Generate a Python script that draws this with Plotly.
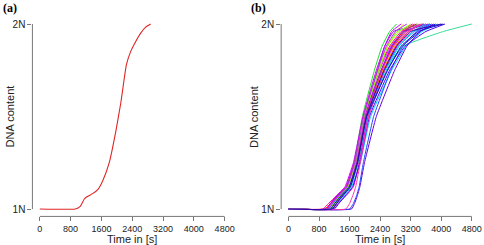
import plotly.graph_objects as go

# ---------------- data ----------------
x_ticks = [0, 800, 1600, 2400, 3200, 4000, 4800]
y_ticks = [1, 2]
y_tick_labels = ["1N", "2N"]

# panel (a): single cell
a_time = [0, 920, 1050, 1155, 1215, 1370, 1517, 1629, 1801, 1974, 2103, 2189, 2249, 2361, 2491, 2620, 2749, 2878]
a_dna = [1.0, 1.0, 1.014, 1.054, 1.065, 1.083, 1.108, 1.15, 1.249, 1.42, 1.573, 1.70, 1.78, 1.852, 1.906, 1.951, 1.983, 2.0]

# panel (b): many cells; common DNA levels, per-cell times
b_levels = [1.0, 1.0, 1.03, 1.07, 1.12, 1.25, 1.5, 1.75, 1.88, 1.96, 2.0]
b_colors = ["#22DD22", "#FFD000", "#FF8800", "#FF2020", "#FF00FF", "#9900FF", "#0000FF",
            "#00CCFF", "#33DD99", "#FF0080", "#CC00FF", "#3344FF", "#6600DD", "#2244FF",
            "#EE00CC", "#66EE33", "#FFAA00", "#0088FF", "#8800CC", "#EE1144", "#4400FF",
            "#DD22DD", "#00DDDD", "#FF33AA", "#1111CC", "#99FF00", "#AA33FF", "#3300AA"]
b_times = [
    [0, 1100, 1200, 1350, 1550, 1720, 1935, 2250, 2450, 2650, 2830],
    [0, 1150, 1250, 1400, 1580, 1760, 1990, 2330, 2580, 2820, 3020],
    [0, 1050, 1180, 1330, 1560, 1780, 2020, 2420, 2750, 3050, 3350],
    [0, 950, 1100, 1280, 1570, 1790, 2050, 2480, 2800, 3150, 3500],
    [0, 1000, 1120, 1300, 1550, 1750, 1990, 2380, 2680, 3000, 3300],
    [0, 1080, 1200, 1380, 1600, 1780, 2000, 2330, 2520, 2750, 3550],
    [0, 1150, 1250, 1420, 1620, 1820, 2080, 2580, 2980, 3450, 3850],
    [0, 1200, 1300, 1450, 1650, 1880, 2150, 2700, 3080, 3500, 3900],
    [0, 1120, 1230, 1400, 1620, 1830, 2070, 2520, 3000, 4060, 4800],
    [0, 900, 1050, 1250, 1500, 1720, 1960, 2350, 2650, 2950, 3250],
    [0, 1000, 1100, 1250, 1480, 1700, 1950, 2300, 2520, 2700, 2950],
    [0, 1100, 1200, 1350, 1560, 1760, 2000, 2430, 2700, 3000, 3700],
    [0, 1650, 1730, 1800, 1870, 1990, 2300, 2780, 3100, 3450, 3800],
    [0, 1600, 1700, 1780, 1850, 1960, 2230, 2680, 3000, 3350, 3750],
    [0, 1150, 1300, 1500, 1700, 1850, 2080, 2520, 2850, 3250, 3650],
    [0, 1050, 1170, 1320, 1540, 1740, 1980, 2380, 2600, 2850, 3400],
    [0, 1100, 1220, 1380, 1600, 1800, 2040, 2470, 2780, 3100, 3500],
    [0, 1050, 1160, 1320, 1560, 1780, 2030, 2520, 2880, 3300, 3700],
    [0, 1000, 1110, 1270, 1520, 1740, 1990, 2430, 2720, 3050, 3600],
    [0, 1150, 1260, 1400, 1600, 1790, 2020, 2450, 2720, 3000, 3350],
    [0, 1200, 1320, 1480, 1680, 1870, 2120, 2650, 3050, 3600, 4100],
    [0, 1000, 1120, 1300, 1550, 1770, 2010, 2440, 2750, 3100, 3450],
    [0, 1100, 1220, 1380, 1600, 1810, 2060, 2560, 2900, 3250, 3600],
    [0, 1500, 1600, 1680, 1760, 1880, 2100, 2520, 2820, 3150, 3500],
    [0, 1150, 1260, 1410, 1620, 1810, 2050, 2600, 2950, 3400, 4050],
    [0, 1080, 1190, 1340, 1560, 1750, 1980, 2360, 2600, 2900, 3200],
    [0, 1050, 1150, 1310, 1530, 1740, 1970, 2330, 2560, 2800, 3100],
    [0, 1100, 1210, 1370, 1590, 1800, 2040, 2500, 2830, 3200, 4000],
]

# ---------------- figure ----------------
W, H = 484, 245
SANS = "Liberation Sans, Arial, sans-serif"
SERIF = "Liberation Serif, Times New Roman, serif"
AXIS_COLOR = "#777777"
TEXT_COLOR = "#222222"

fig = go.Figure()

fig.add_trace(go.Scatter(x=a_time, y=a_dna, mode="lines",
                         line=dict(color="#E02525", width=1.1, shape="spline", smoothing=0.4),
                         xaxis="x", yaxis="y", showlegend=False, hoverinfo="skip"))

for col, ts in zip(b_colors, b_times):
    fig.add_trace(go.Scatter(x=ts, y=b_levels, mode="lines",
                             line=dict(color=col, width=1, shape="spline", smoothing=0.35),
                             xaxis="x2", yaxis="y2", showlegend=False, hoverinfo="skip"))

xpad = 0.04 * (x_ticks[-1] - x_ticks[0])
ypad = 0.04 * (y_ticks[-1] - y_ticks[0])
xr = [x_ticks[0] - xpad, x_ticks[-1] + xpad]
yr = [y_ticks[0] - ypad, y_ticks[-1] + ypad]

ydom = [0.1167, 0.9322]
xdom_a = [0.0674, 0.4824]
xdom_b = [0.5845, 0.9961]

def xaxis(dom, anchor):
    return dict(domain=dom, range=xr, anchor=anchor, tickmode="array",
                tickvals=x_ticks, ticktext=[str(v) for v in x_ticks],
                ticks="outside", ticklen=4, tickwidth=1, tickcolor=AXIS_COLOR,
                showline=False, showgrid=False, zeroline=False,
                tickfont=dict(family=SANS, size=9, color=TEXT_COLOR), fixedrange=True)

def yaxis(anchor):
    return dict(domain=ydom, range=yr, anchor=anchor, tickmode="array",
                tickvals=y_ticks, ticktext=y_tick_labels,
                ticks="outside", ticklen=4, tickwidth=1, tickcolor=AXIS_COLOR,
                showline=False, showgrid=False, zeroline=False,
                tickfont=dict(family=SANS, size=10, color=TEXT_COLOR), fixedrange=True)

shapes = []
for xa, ya in (("x", "y"), ("x2", "y2")):
    shapes.append(dict(type="line", xref=xa, yref=ya + " domain",
                       x0=x_ticks[0], x1=x_ticks[-1], y0=0, y1=0,
                       line=dict(color=AXIS_COLOR, width=1)))
    shapes.append(dict(type="line", xref=xa + " domain", yref=ya,
                       x0=0, x1=0, y0=y_ticks[0], y1=y_ticks[-1],
                       line=dict(color=AXIS_COLOR, width=1)))

annotations = []
for label, dom, ylab_x, lab_x in (("(a)", xdom_a, 10 / W, 1 / W), ("(b)", xdom_b, 255 / W, 251 / W)):
    annotations.append(dict(text="<b>" + label + "</b>", x=lab_x, y=1 - 8 / H,
                            xref="paper", yref="paper", xanchor="left", yanchor="middle",
                            showarrow=False, font=dict(family=SERIF, size=12, color="#000000")))
    annotations.append(dict(text="DNA content", x=ylab_x, y=(ydom[0] + ydom[1]) / 2,
                            xref="paper", yref="paper", xanchor="center", yanchor="middle",
                            textangle=-90, showarrow=False,
                            font=dict(family=SANS, size=11, color=TEXT_COLOR)))
    xc = dom[0] + (dom[1] - dom[0]) / 2
    annotations.append(dict(text="Time in [s]", x=xc, y=1 - 239 / H,
                            xref="paper", yref="paper", xanchor="center", yanchor="middle",
                            showarrow=False, font=dict(family=SANS, size=11, color=TEXT_COLOR)))

fig.update_layout(
    width=W, height=H, autosize=False,
    margin=dict(l=0, r=0, t=0, b=0),
    paper_bgcolor="white", plot_bgcolor="white",
    xaxis=xaxis(xdom_a, "y"), yaxis=yaxis("x"),
    xaxis2=xaxis(xdom_b, "y2"), yaxis2=yaxis("x2"),
    shapes=shapes, annotations=annotations,
)

fig.write_html("out.html", config={"displayModeBar": False},
               post_script="document.body.style.margin='0px';document.body.style.overflow='hidden';")
